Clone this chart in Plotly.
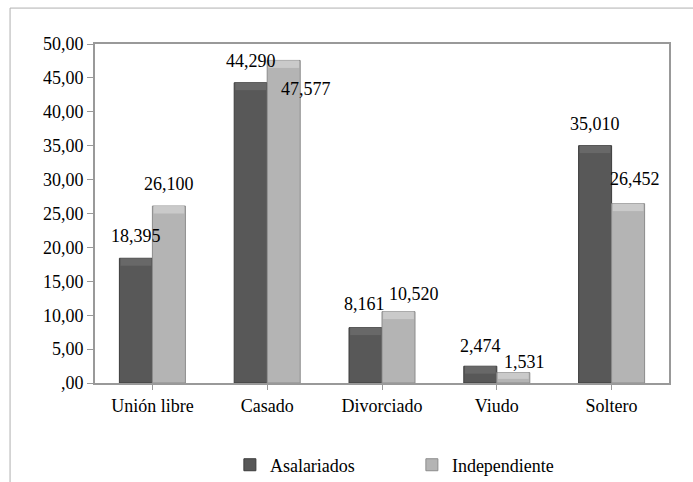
import plotly.graph_objects as go

categorias = ["Unión libre", "Casado", "Divorciado", "Viudo", "Soltero"]
asalariados = [18.395, 44.290, 8.161, 2.474, 35.010]
independiente = [26.100, 47.577, 10.520, 1.531, 26.452]
y_ticks = [0, 5, 10, 15, 20, 25, 30, 35, 40, 45, 50]
y_tick_labels = [",00", "5,00", "10,00", "15,00", "20,00", "25,00",
                 "30,00", "35,00", "40,00", "45,00", "50,00"]

# label offsets (px) per bar: (xshift, yshift)
off_asal = [(0, 22), (0, 22), (-1, 24), (0, 20), (0, 22)]
off_ind = [(0, 22), (22, -29), (15, 18), (11, 11), (7, 25)]

FONT = "Liberation Serif"
DARK = "#585858"
DARK_EDGE = "#3c3c3c"
DARK_TOP = "#686868"
LIGHT = "#b4b4b4"
LIGHT_EDGE = "#8c8c8c"
LIGHT_TOP = "#cacaca"
BAR_W = 0.2875     # width of each bar in category units
BEVEL = 1.1        # height of the lighter top bevel, in axis units

xs = list(range(len(categorias)))

def bevel_parts(vals):
    tops = [min(BEVEL, v * 0.6) for v in vals]
    return [v - t for v, t in zip(vals, tops)], tops

fig = go.Figure()
fig.add_trace(go.Bar(
    x=xs, y=asalariados, name="Asalariados", width=BAR_W, offset=-BAR_W,
    marker=dict(color=DARK, line=dict(color=DARK_EDGE, width=1)),
))
fig.add_trace(go.Bar(
    x=xs, y=independiente, name="Independiente", width=BAR_W, offset=0,
    marker=dict(color=LIGHT, line=dict(color=LIGHT_EDGE, width=1)),
))

# lighter bevel band along the top of each bar
base_a, top_a = bevel_parts(asalariados)
base_i, top_i = bevel_parts(independiente)
fig.add_trace(go.Bar(
    x=xs, y=top_a, base=base_a, width=BAR_W - 0.02, offset=-BAR_W + 0.01,
    marker=dict(color=DARK_TOP, line=dict(width=0)), showlegend=False, hoverinfo="skip",
))
fig.add_trace(go.Bar(
    x=xs, y=top_i, base=base_i, width=BAR_W - 0.02, offset=0.01,
    marker=dict(color=LIGHT_TOP, line=dict(width=0)), showlegend=False, hoverinfo="skip",
))

def fmt(v):
    return f"{v:.3f}".replace(".", ",")

annotations = []
for i, v in enumerate(asalariados):
    dx, dy = off_asal[i]
    annotations.append(dict(x=i - BAR_W / 2, y=v, text=fmt(v), showarrow=False,
                            xshift=dx, yshift=dy, font=dict(size=18, color="#000", family=FONT)))
for i, v in enumerate(independiente):
    dx, dy = off_ind[i]
    annotations.append(dict(x=i + BAR_W / 2, y=v, text=fmt(v), showarrow=False,
                            xshift=dx, yshift=dy, font=dict(size=18, color="#000", family=FONT)))

# outer chart frame (top and left edges visible)
shapes = [
    dict(type="line", xref="paper", yref="paper", x0=-0.148, x1=1.1, y0=1.106, y1=1.106,
         line=dict(color="#b0b0b0", width=1)),
    dict(type="line", xref="paper", yref="paper", x0=-0.148, x1=-0.148, y0=1.106, y1=-0.35,
         line=dict(color="#b0b0b0", width=1)),
]

fig.update_layout(
    width=693, height=482,
    margin=dict(l=95, r=24, t=44, b=99, autoexpand=False),
    paper_bgcolor="white", plot_bgcolor="white",
    barmode="overlay",
    font=dict(family=FONT, size=18, color="#000"),
    annotations=annotations,
    shapes=shapes,
    showlegend=True,
    legend=dict(orientation="h", x=0.235, xanchor="left", y=-0.242, yanchor="middle",
                font=dict(size=18, family=FONT), entrywidth=137,
                itemwidth=30, traceorder="normal"),
    xaxis=dict(
        tickvals=xs, ticktext=categorias, range=[-0.5, len(categorias) - 0.5],
        showline=True, linecolor="#999999", linewidth=2, mirror=True,
        ticks="outside", ticklen=5, tickcolor="#999999", tickson="boundaries",
        showgrid=False, zeroline=False, automargin=False,
        tickfont=dict(size=18, family=FONT),
    ),
    yaxis=dict(
        range=[0, 50], tickvals=y_ticks, ticktext=y_tick_labels,
        showline=True, linecolor="#999999", linewidth=2, mirror=True,
        ticks="outside", ticklen=6, tickcolor="#999999",
        showgrid=False, zeroline=False, automargin=False,
        tickfont=dict(size=18, family=FONT),
    ),
)

fig.write_html("out.html")
